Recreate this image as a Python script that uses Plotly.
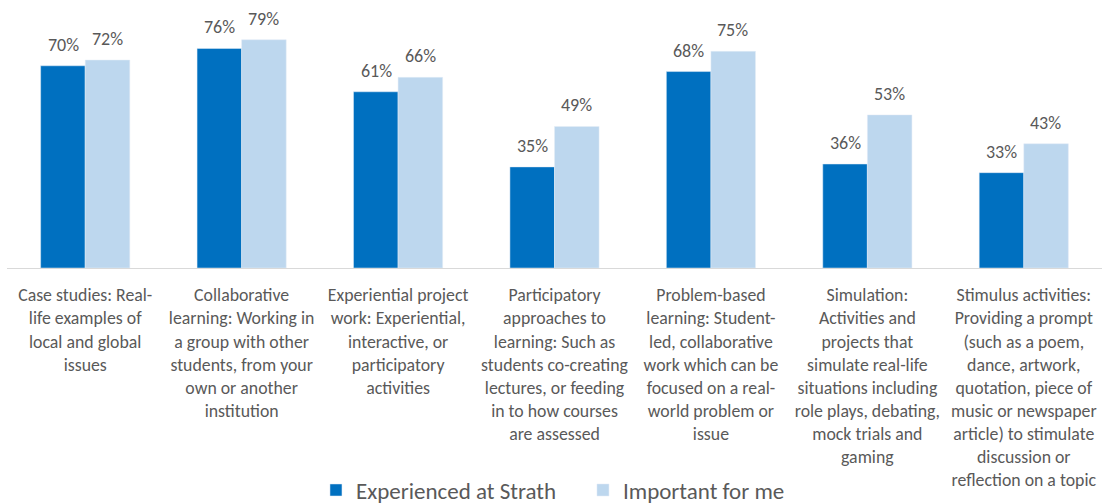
import plotly.graph_objects as go

categories = [
    "Case studies: Real-<br>life examples of<br>local and global<br>issues",
    "Collaborative<br>learning: Working in<br>a group with other<br>students, from your<br>own or another<br>institution",
    "Experiential project<br>work: Experiential,<br>interactive, or<br>participatory<br>activities",
    "Participatory<br>approaches to<br>learning: Such as<br>students co-creating<br>lectures, or feeding<br>in to how courses<br>are assessed",
    "Problem-based<br>learning: Student-<br>led, collaborative<br>work which can be<br>focused on a real-<br>world problem or<br>issue",
    "Simulation:<br>Activities and<br>projects that<br>simulate real-life<br>situations including<br>role plays, debating,<br>mock trials and<br>gaming",
    "Stimulus activities:<br>Providing a prompt<br>(such as a poem,<br>dance, artwork,<br>quotation, piece of<br>music or newspaper<br>article) to stimulate<br>discussion or<br>reflection on a topic",
]
experienced = [0.70, 0.76, 0.61, 0.35, 0.68, 0.36, 0.33]
important = [0.72, 0.79, 0.66, 0.49, 0.75, 0.53, 0.43]

FONT = "Carlito, Lato, sans-serif"
GREY = "#595959"

fig = go.Figure()
fig.add_trace(go.Bar(name="Experienced at Strath", x=categories, y=experienced,
                     marker_color="#0070C0"))
fig.add_trace(go.Bar(name="Important for me", x=categories, y=important,
                     marker_color="#BDD7EE"))

# data labels, centred over each bar of the pair
for vals, dx in [(experienced, -22), (important, 22)]:
    for cat, v in zip(categories, vals):
        fig.add_annotation(x=cat, y=v, text=f"{v:.0%}", showarrow=False,
                           xshift=dx, yshift=21, yanchor="middle",
                           font=dict(size=18, color=GREY, family=FONT))

fig.update_layout(
    width=1102, height=504,
    margin=dict(l=7, r=0, t=8, b=236, autoexpand=False),
    barmode="group", bargap=0.43, bargroupgap=0,
    plot_bgcolor="white", paper_bgcolor="white",
    font=dict(family=FONT, color=GREY, size=17.8),
    legend=dict(orientation="h", x=0.526, xanchor="center", y=-0.854, yanchor="middle",
                font=dict(size=23, color=GREY), itemwidth=30, traceorder="normal",
                entrywidth=222),
    xaxis=dict(showline=True, linecolor="#D9D9D9", linewidth=1, ticks="",
               tickfont=dict(size=17.8, color=GREY), tickangle=0,
               automargin=False, ticklabelstandoff=11),
    yaxis=dict(range=[0, 0.9], visible=False, showgrid=False, automargin=False),
)

# drop the default page margin so the figure fills the window exactly
fig.write_html("out.html", config={"displayModeBar": False},
               post_script="document.body.style.margin='0';document.body.style.overflow='hidden';")
